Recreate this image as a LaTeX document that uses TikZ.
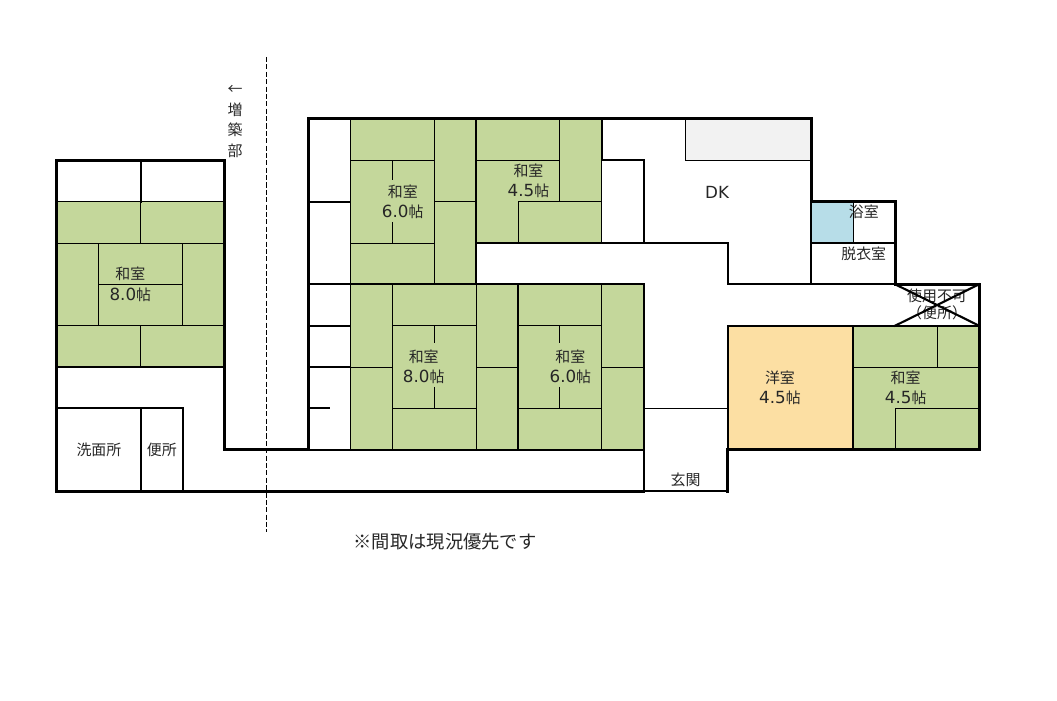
\documentclass[tikz,border=0pt]{standalone}
\usepackage{fontspec}
\setmainfont{Noto Sans CJK JP}
\newfontfamily\latinfont[Scale=1.12]{DejaVu Sans}
\definecolor{tatami}{HTML}{C4D79B}
\definecolor{youshitsu}{HTML}{FCDFA3}
\definecolor{bath}{HTML}{B7DDE8}
\definecolor{kitchen}{HTML}{F2F2F2}
\tikzset{
  outerwall/.style={line width=.06cm,line join=miter,line cap=rect},
  wall/.style={line width=.042cm,line cap=rect},
  thinwall/.style={line width=.019cm},
  roomlabel/.style={inner sep=0,align=center,text=black!85,font=\fontsize{8.5pt}{11.6pt}\selectfont},
}
\begin{document}
\begin{tikzpicture}[x=0.8382cm,y=-0.8267cm]
    \useasboundingbox (-1.36,-2.879) rectangle (23.861,14.058);
    % floor colours
    \fill[tatami] (0,2) rectangle (4,6);
    \fill[tatami] (7,0) rectangle (13,3);
    \fill[tatami] (10,3) rectangle (7,4);
    \fill[tatami] (7,4) rectangle (14,8);
    \fill[tatami] (19,5) rectangle (22,8);
    \fill[youshitsu] (16,5) rectangle (19,8);
    \fill[bath] (18,2) rectangle (19,3);
    \draw[thinwall,fill=kitchen] (15,0) rectangle (18,1);
    % tatami, left block
    \draw[thinwall] (0,2) -- (4,2) (0,3) -- (4,3) (0,5) -- (4,5) (1,4) -- (3,4);
    \draw[thinwall] (2,2) -- (2,3) (1,3) -- (1,5) (3,3) -- (3,5) (2,5) -- (2,6);
    % tatami, 6.0 and 4.5 upper rooms
    \draw[thinwall] (7,0) -- (7,8) (7,1) -- (9,1) (7,3) -- (9,3) (9,0) -- (9,4) (9,2) -- (10,2);
    \draw[thinwall] (8,1) -- (8,1.48) (8,2.49) -- (8,3);
    \draw[thinwall] (10,1) -- (12,1) (12,0) -- (12,2) (11,2) -- (13,2) (11,2) -- (11,3) (13,1) -- (13,3);
    % tatami, 8.0 and 6.0 lower rooms
    \draw[thinwall] (8,4) -- (8,8) (10,4) -- (10,8) (8,5) -- (10,5) (8,7) -- (10,7) (7,6) -- (8,6) (10,6) -- (11,6);
    \draw[thinwall] (9,5) -- (9,5.42) (9,6.48) -- (9,7);
    \draw[thinwall] (11,5) -- (13,5) (11,7) -- (13,7) (13,4) -- (13,8) (13,6) -- (14,6);
    \draw[thinwall] (12,5) -- (12,5.42) (12,6.48) -- (12,7);
    % tatami, 4.5 right room
    \draw[thinwall] (19,6) -- (22,6) (21,5) -- (21,6) (20,7) -- (22,7) (20,7) -- (20,8);
    \draw[thinwall] (14,7) -- (16,7) (19,2) -- (19,3);
    % inner walls
    \draw[wall] (2,1) -- (2,2) (0,6) -- (4,6) (0,7) -- (3,7) (3,7) -- (3,9) (2,7) -- (2,9);
    \draw[wall] (6,2) -- (7,2) (6,4) -- (14,4) (6,5) -- (7,5) (6,6) -- (7,6) (6,7) -- (6.5,7);
    \draw[wall] (10,0) -- (10,4) (11,4) -- (11,8) (14,4) -- (14,9) (14,9) -- (16,9);
    \draw[wall] (13,0) -- (13,1) -- (14,1) -- (14,3) (10,3) -- (16,3) -- (16,4) -- (20,4);
    \draw[wall] (18,2) -- (18,4) (18,3) -- (20,3);
    \draw[wall] (16,5) -- (22,5) (16,5) -- (16,8) (19,5) -- (19,8);
    % outer walls
    \draw[outerwall] (14,9) -- (0,9) -- (0,1) -- (4,1) -- (4,8) -- (6,8) -- (6,0) -- (18,0) -- (18,2) -- (20,2) -- (20,4)
      -- (22,4) -- (22,8) -- (16,8) -- (16,9);
    \draw[wall] (6,8) -- (14,8);
    % extension line
    \draw[thinwall,dash pattern=on 2.9pt off 1.3pt] (5,-1.5) -- (5,9.99);
    % labels
    \node[roomlabel] (washitsua) at (1.75,4) {和室\\{\latinfont 8.0}帖};
    \node[roomlabel] (washitsub) at (8.25,2) {和室\\{\latinfont 6.0}帖};
    \node[roomlabel] (washitsuc) at (11.25,1.5) {和室\\{\latinfont 4.5}帖};
    \node[roomlabel] (washitsud) at (8.75,6) {和室\\{\latinfont 8.0}帖};
    \node[roomlabel] (washitsue) at (12.25,6) {和室\\{\latinfont 6.0}帖};
    \node[roomlabel] (youshitsu) at (17.25,6.5) {洋室\\{\latinfont 4.5}帖};
    \node[roomlabel] (washitsuf) at (20.25,6.5) {和室\\{\latinfont 4.5}帖};
    \node[roomlabel] (dk) at (15.75,1.77) {\latinfont DK};
    \node[roomlabel] (yokushitsu) at (19.25,2.25) {浴室};
    \node[roomlabel] (datsuishitsu) at (19.25,3.27) {脱衣室};
    \node[roomlabel] (genkan) at (15,8.73) {玄関};
    \node[roomlabel] (senmenjo) at (1,8) {洗面所};
    \node[roomlabel] (benjo) at (2.5,8) {便所};
    \node[roomlabel,font=\fontsize{8.5pt}{10pt}\selectfont] (shiyou) at (21,4.49) {使用不可\\（便所）};
    \node[roomlabel] (zouchiku) at (4.25,0.06) {←\\増\\築\\部};
    \node[roomlabel,font=\fontsize{10.4pt}{12pt}\selectfont] (note) at (9.26,10.22) {※間取は現況優先です};
    % closed off room
    \draw[wall] (20,4) -- (22,5) (22,4) -- (20,5);
\end{tikzpicture}
\end{document}
